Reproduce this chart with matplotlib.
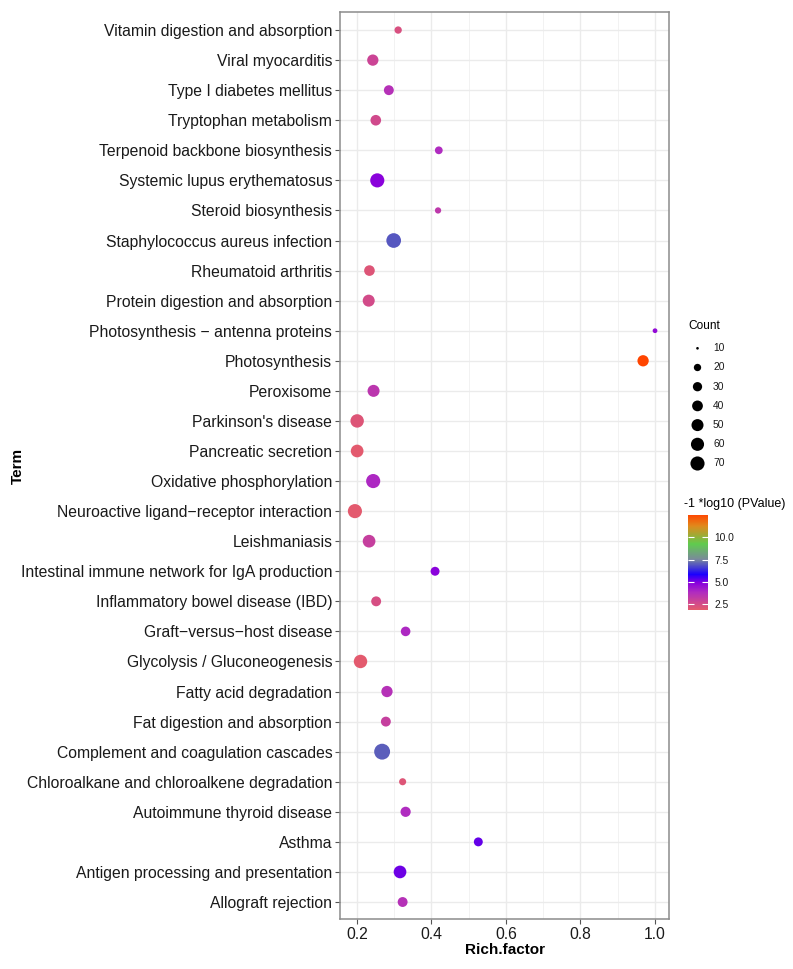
import numpy as np
import matplotlib
matplotlib.use('Agg')
import matplotlib.pyplot as plt
from matplotlib.colors import LinearSegmentedColormap, Normalize

# KEGG terms, bottom to top (alphabetical like ggplot's discrete axis)
terms = [
    "Allograft rejection",
    "Antigen processing and presentation",
    "Asthma",
    "Autoimmune thyroid disease",
    "Chloroalkane and chloroalkene degradation",
    "Complement and coagulation cascades",
    "Fat digestion and absorption",
    "Fatty acid degradation",
    "Glycolysis / Gluconeogenesis",
    "Graft\u2212versus\u2212host disease",
    "Inflammatory bowel disease (IBD)",
    "Intestinal immune network for IgA production",
    "Leishmaniasis",
    "Neuroactive ligand\u2212receptor interaction",
    "Oxidative phosphorylation",
    "Pancreatic secretion",
    "Parkinson's disease",
    "Peroxisome",
    "Photosynthesis",
    "Photosynthesis \u2212 antenna proteins",
    "Protein digestion and absorption",
    "Rheumatoid arthritis",
    "Staphylococcus aureus infection",
    "Steroid biosynthesis",
    "Systemic lupus erythematosus",
    "Terpenoid backbone biosynthesis",
    "Tryptophan metabolism",
    "Type I diabetes mellitus",
    "Viral myocarditis",
    "Vitamin digestion and absorption",
]

rich_factor = [0.323, 0.316, 0.526, 0.331, 0.323, 0.268, 0.278, 0.281, 0.210, 0.331,
               0.252, 0.410, 0.233, 0.195, 0.244, 0.201, 0.201, 0.245, 0.968, 1.000,
               0.232, 0.234, 0.299, 0.418, 0.255, 0.420, 0.251, 0.286, 0.243, 0.311]

counts = [34, 56, 28, 36, 19, 90, 34, 44, 63, 32,
          34, 28, 56, 70, 70, 56, 63, 50, 44, 12,
          50, 39, 76, 16, 70, 22, 39, 34, 44, 20]

neg_log_p = [3.6, 5.1, 5.2, 3.8, 2.1, 7.0, 3.0, 3.6, 1.9, 3.9,
             2.4, 4.8, 3.0, 1.86, 3.9, 1.9, 2.1, 3.4, 12.58, 4.6,
             2.5, 2.1, 6.9, 3.3, 4.8, 3.8, 2.6, 3.6, 2.8, 2.3]

legend_counts = [10, 20, 30, 40, 50, 60, 70]
cbar_ticks = [2.5, 5.0, 7.5, 10.0]

plt.rcParams['font.family'] = ['Liberation Sans', 'DejaVu Sans']

# colour scale roughly like the original gradientn
cmap = LinearSegmentedColormap.from_list('pval', [
    (0.00, '#E35A6E'),
    (0.18, '#B02CC0'),
    (0.28, '#8800DD'),
    (0.37, '#1A00FF'),
    (0.53, '#7A8A9A'),
    (0.69, '#5FCB4E'),
    (0.88, '#E08A1C'),
    (1.00, '#FF4500'),
])
norm = Normalize(vmin=min(neg_log_p), vmax=max(neg_log_p))


def point_size(c):
    # ggplot-like area scale: diameter grows with sqrt of the rescaled count
    d = 2.65 * (1 + 5 * np.sqrt((np.asarray(c, dtype=float) - 10) / 80))
    return (d * 0.72) ** 2


W, H = 793, 969
fig = plt.figure(figsize=(W / 100, H / 100), dpi=100)
ax = fig.add_axes([340 / W, 50 / H, 329 / W, 907 / H])

y = np.arange(1, len(terms) + 1)
ax.scatter(rich_factor, y, s=point_size(counts), c=neg_log_p, cmap=cmap, norm=norm,
           linewidths=0, zorder=3)

ax.set_xlim(0.155, 1.0375)
ax.set_ylim(0.435, len(terms) + 0.6)
ax.set_yticks(y)
ax.set_yticklabels(terms)
ax.set_xticks([0.2, 0.4, 0.6, 0.8, 1.0])
ax.set_xticklabels(['0.2', '0.4', '0.6', '0.8', '1.0'])
ax.set_xticks([0.3, 0.5, 0.7, 0.9], minor=True)

ax.grid(True, which='major', color='#EBEBEB', linewidth=1.0, zorder=0)
ax.grid(True, which='minor', axis='x', color='#F2F2F2', linewidth=0.7, zorder=0)
ax.set_axisbelow(True)
for sp in ax.spines.values():
    sp.set_color('#8C8C8C')
    sp.set_linewidth(1.1)
ax.tick_params(axis='both', which='major', length=3.5, width=0.8, color='#555555',
               labelsize=11.3, labelcolor='#1A1A1A', pad=2)
ax.tick_params(axis='x', which='minor', length=0)
ax.set_xlabel('Rich.factor', fontsize=11, fontweight='bold')
ax.set_ylabel('Term', fontsize=11, fontweight='bold')
ax.xaxis.set_label_coords(0.5, -24 / 907)
ax.yaxis.set_label_coords(-315 / 329, 0.5)

# size legend
fig.text(688 / W, 1 - 326 / H, 'Count', fontsize=8.6, va='center', ha='left')
lax = fig.add_axes([680 / W, 1 - 475 / H, 60 / W, 140 / H])
lax.set_xlim(680, 740)
lax.set_ylim(475, 335)
lax.axis('off')
key_y = 348.3 + 19.2 * np.arange(len(legend_counts))
lax.scatter(np.full(len(legend_counts), 697.5), key_y, s=point_size(legend_counts),
            color='black', linewidths=0)
for ky, lc in zip(key_y, legend_counts):
    lax.text(713, ky, str(lc), fontsize=7.4, va='center', ha='left', color='#1A1A1A')

# colour bar
fig.text(684 / W, 1 - 504 / H, '-1 *log10 (PValue)', fontsize=9, va='center', ha='left')
cax = fig.add_axes([687.5 / W, 1 - 609.5 / H, 20 / W, 95 / H])
sm = plt.cm.ScalarMappable(cmap=cmap, norm=norm)
cb = fig.colorbar(sm, cax=cax, ticks=cbar_ticks)
cb.outline.set_visible(False)
cb.ax.set_yticklabels(['2.5', '5.0', '7.5', '10.0'])
cax.tick_params(axis='y', direction='in', left=True, right=True, color='white',
                length=4, width=0.8, labelsize=7.4, labelcolor='#1A1A1A', pad=5)

fig.savefig('out.png', dpi=100)
